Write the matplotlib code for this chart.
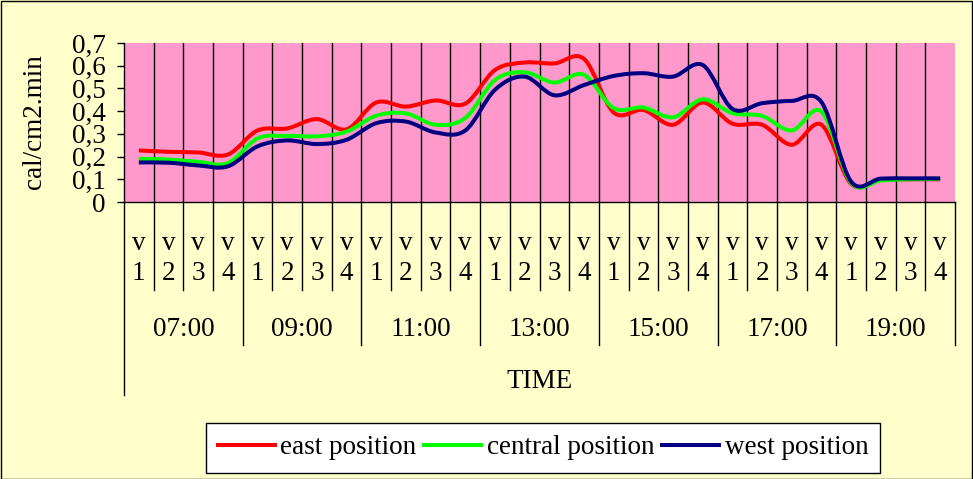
import numpy as np
import matplotlib
matplotlib.use("Agg")
import matplotlib.pyplot as plt
from matplotlib.path import Path
from matplotlib.patches import PathPatch, Rectangle
from matplotlib.lines import Line2D
from matplotlib.transforms import blended_transform_factory

hours = ["07:00", "09:00", "11:00", "13:00", "15:00", "17:00", "19:00"]
rounds = ["1", "2", "3", "4"]

east = [0.227, 0.221, 0.218, 0.209, 0.315, 0.324, 0.365, 0.32,
        0.438, 0.42, 0.447, 0.433, 0.581, 0.614, 0.61, 0.63,
        0.394, 0.405, 0.34, 0.438, 0.345, 0.34, 0.252, 0.34,
        0.08, 0.097, 0.1, 0.1]
central = [0.19, 0.187, 0.177, 0.171, 0.28, 0.291, 0.289, 0.31,
           0.38, 0.39, 0.34, 0.37, 0.537, 0.571, 0.526, 0.56,
           0.413, 0.416, 0.373, 0.452, 0.391, 0.379, 0.315, 0.398,
           0.084, 0.095, 0.1, 0.102]
west = [0.174, 0.173, 0.161, 0.157, 0.245, 0.271, 0.255, 0.274,
        0.347, 0.354, 0.306, 0.315, 0.494, 0.552, 0.47, 0.515,
        0.555, 0.567, 0.552, 0.603, 0.41, 0.435, 0.445, 0.44,
        0.09, 0.103, 0.104, 0.104]

series_names = ["east position", "central position", "west position"]
series_colors = ["#FF0000", "#00FF00", "#000080"]

y_ticks = [0, 0.1, 0.2, 0.3, 0.4, 0.5, 0.6, 0.7]
y_tick_labels = ["0", "0,1", "0,2", "0,3", "0,4", "0,5", "0,6", "0,7"]

W, H = 973, 479
FS = 19.5
LW = 2.9


def smooth_path(xs, ys):
    # smoothed line like excel: catmull-rom pieces as cubic bezier segments
    pts = np.column_stack([xs, ys]).astype(float)
    n = len(pts)
    verts = [pts[0]]
    codes = [Path.MOVETO]
    for i in range(n - 1):
        p0 = pts[max(i - 1, 0)]
        p1 = pts[i]
        p2 = pts[i + 1]
        p3 = pts[min(i + 2, n - 1)]
        verts += [p1 + (p2 - p0) / 6, p2 - (p3 - p1) / 6, p2]
        codes += [Path.CURVE4] * 3
    return Path(verts, codes)


def ya(ypix):
    # pixel row of the picture -> axes fraction below the plot
    return (202 - ypix) / 159


plt.rcParams['font.family'] = ['Liberation Serif', 'DejaVu Serif']

fig = plt.figure(figsize=(W / 100, H / 100), dpi=100)
fig.patch.set_facecolor('#FFFFCC')
fig.add_artist(Rectangle((0.5 / W, 0.5 / H), 1 - 1.5 / W, 1 - 1.5 / H,
                         transform=fig.transFigure, fill=False,
                         edgecolor='black', linewidth=1))

ax = fig.add_axes([124 / W, 1 - 202 / H, 831 / W, 159 / H])
ax.set_facecolor('#FF99CC')
n_cat = len(hours) * len(rounds)
ax.set_xlim(-0.5, n_cat - 0.5)
ax.set_ylim(0, 0.7)
for side in ['top', 'right']:
    ax.spines[side].set_visible(False)
for side in ['left', 'bottom']:
    ax.spines[side].set_color('black')
    ax.spines[side].set_linewidth(1)

ax.set_yticks(y_ticks)
ax.set_yticklabels(y_tick_labels, fontsize=FS)
ax.tick_params(axis='y', direction='out', length=5, width=1, pad=8)
ax.set_xticks([])

for b in range(1, n_cat):
    ax.axvline(b - 0.5, color='black', linewidth=1, zorder=1)

x = np.arange(n_cat)
for vals, col in zip([east, central, west], series_colors):
    ax.add_patch(PathPatch(smooth_path(x, vals), fill=False, edgecolor=col,
                           linewidth=LW, zorder=3, capstyle='butt'))

# multi level category axis under the plot
tr = blended_transform_factory(ax.transData, ax.transAxes)
for b in range(0, n_cat + 1):
    if b == 0:
        low = ya(395)
    elif b % len(rounds) == 0:
        low = ya(345)
    else:
        low = ya(290)
    ax.plot([b - 0.5, b - 0.5], [0, low], color='black', linewidth=1,
            transform=tr, clip_on=False)

for g, hr in enumerate(hours):
    for r, lab in enumerate(rounds):
        k = g * len(rounds) + r
        ax.text(k, ya(243), "v", transform=tr, ha='center', va='center',
                fontsize=FS)
        ax.text(k, ya(273), lab, transform=tr, ha='center', va='center',
                fontsize=FS)
    ax.text(g * len(rounds) + 1.5, ya(329), hr, transform=tr, ha='center',
            va='center', fontsize=FS)

ax.text((n_cat - 1) / 2, ya(381), "TIME", transform=tr, ha='center',
        va='center', fontsize=FS)

fig.text(35 / W, 1 - 122 / H, "cal/cm2.min", rotation=90, ha='center',
         va='center', fontsize=FS)

handles = [Line2D([], [], color=c, linewidth=LW) for c in series_colors]
leg = fig.legend(handles, series_names, loc='center',
                 bbox_to_anchor=(543 / W, 1 - 448 / H), ncol=3, fontsize=FS,
                 frameon=True, fancybox=False, edgecolor='black',
                 handlelength=2.1, handletextpad=0.2, columnspacing=0.3,
                 borderpad=0.45, borderaxespad=0)
leg.get_frame().set_facecolor('white')
leg.get_frame().set_linewidth(1)
leg.get_frame().set_alpha(1)

fig.savefig("out.png", dpi=100, facecolor=fig.get_facecolor())
